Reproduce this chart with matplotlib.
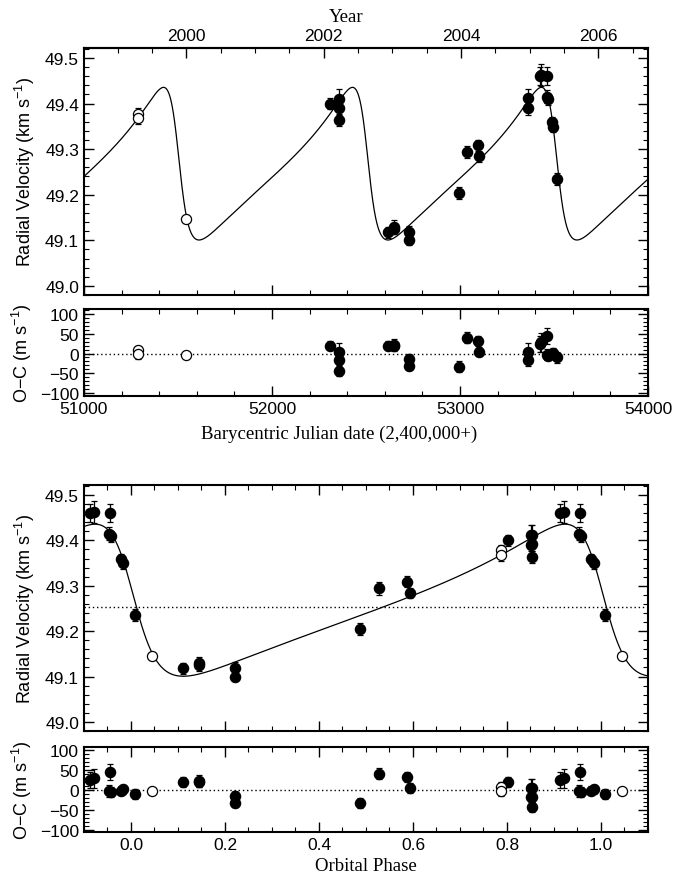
import numpy as np
import matplotlib
matplotlib.use("Agg")
import matplotlib.pyplot as plt
from matplotlib.ticker import MultipleLocator, NullFormatter, FixedLocator, FuncFormatter

# ---------------- data ----------------
bjd = [51287, 51287, 51544, 52306, 52357, 52357, 52357, 52616, 52651, 52651,
       52728, 52728, 52994, 53035, 53096, 53102, 53360, 53360, 53423, 53430,
       53465, 53463, 53467, 53488, 53494, 53518]
rv = [49.378, 49.368, 49.146, 49.400, 49.411, 49.391, 49.363, 49.118, 49.130, 49.125,
      49.118, 49.100, 49.204, 49.294, 49.309, 49.284, 49.412, 49.390, 49.461, 49.463,
      49.460, 49.415, 49.409, 49.359, 49.349, 49.235]
rv_err = [0.012, 0.013, 0.004, 0.012, 0.022, 0.014, 0.013, 0.012, 0.014, 0.012,
          0.013, 0.010, 0.013, 0.014, 0.012, 0.012, 0.021, 0.014, 0.020, 0.024,
          0.020, 0.014, 0.012, 0.012, 0.012, 0.013]
o_minus_c = [8, -2, -4, 20, 5, -17, -43, 20, 22, 18,
             -15, -32, -33, 40, 31, 5, 5, -17, 25, 28,
             44, -3, -5, -2, 1, -10]
is_open = [True, True, True] + [False] * 23
year_ticks = [2000, 2002, 2004, 2006]

# orbital elements of the fitted curve
period = 1005.0
t_peri = 53510.0
ecc = 0.52
omega_deg = 80.0
k_amp = 0.1675
gamma = 49.253

bjd = np.array(bjd, float)
rv = np.array(rv)
rv_err = np.array(rv_err)
o_minus_c = np.array(o_minus_c, float)
is_open = np.array(is_open)


def kepler_rv(t):
    M = 2 * np.pi * np.mod((np.asarray(t) - t_peri) / period, 1.0)
    E = M.copy()
    for _ in range(60):
        E = E - (E - ecc * np.sin(E) - M) / (1 - ecc * np.cos(E))
    nu = 2 * np.arctan2(np.sqrt(1 + ecc) * np.sin(E / 2), np.sqrt(1 - ecc) * np.cos(E / 2))
    w = np.radians(omega_deg)
    return gamma + k_amp * (np.cos(nu + w) + ecc * np.cos(w))


phase = np.mod((bjd - t_peri) / period, 1.0)

# ---------------- style ----------------
SANS = ["Liberation Sans", "DejaVu Sans"]
SERIF = ["Liberation Serif", "DejaVu Serif"]
plt.rcParams["font.family"] = SANS
plt.rcParams["font.size"] = 12.5
plt.rcParams["axes.linewidth"] = 1.5
plt.rcParams["mathtext.default"] = "regular"

fig = plt.figure(figsize=(6.75, 8.78), dpi=100)
L, W = 0.1244, 0.8356
ax1 = fig.add_axes([L, 0.6629, W, 0.2813])
ax2 = fig.add_axes([L, 0.5478, W, 0.0991])
ax3 = fig.add_axes([L, 0.1663, W, 0.2802])
ax4 = fig.add_axes([L, 0.0513, W, 0.0971])


def style(ax, xmaj, xmin, ymaj, ymin, top=True):
    ax.xaxis.set_major_locator(MultipleLocator(xmaj))
    ax.xaxis.set_minor_locator(MultipleLocator(xmin))
    ax.yaxis.set_major_locator(MultipleLocator(ymaj))
    ax.yaxis.set_minor_locator(MultipleLocator(ymin))
    ax.tick_params(which="both", direction="in", left=True, right=True,
                   bottom=True, top=top, labelsize=12.5)
    ax.tick_params(which="major", length=7, width=1.0)
    ax.tick_params(which="minor", length=3.5, width=0.8)


def points(ax, x, y, err, open_mask):
    ax.errorbar(x, y, yerr=err, fmt="none", ecolor="black", elinewidth=0.9,
                capsize=2.5, capthick=0.9, zorder=3)
    ax.plot(x[~open_mask], y[~open_mask], "o", ms=7.3, mfc="black", mec="black", zorder=4)
    ax.plot(x[open_mask], y[open_mask], "o", ms=7.3, mfc="white", mec="black",
            mew=0.9, zorder=4)


rv_fmt = FuncFormatter(lambda v, pos: "%.1f" % v)
oc_fmt = FuncFormatter(lambda v, pos: ("%d" % round(v)).replace("-", "\u2212"))

# ---- panel 1: RV vs BJD ----
tgrid = np.linspace(51000, 54000, 3000)
ax1.plot(tgrid, kepler_rv(tgrid), color="black", lw=0.9, zorder=2)
points(ax1, bjd, rv, rv_err, is_open)
ax1.set_xlim(51000, 54000)
ax1.set_ylim(48.98, 49.522)
style(ax1, 1000, 200, 0.1, 0.02, top=False)
ax1.xaxis.set_major_formatter(NullFormatter())
ax1.yaxis.set_major_formatter(rv_fmt)
ax1.set_ylabel("Radial Velocity (km s$^{-1}$)", fontsize=13, labelpad=6)


def jd2yr(x):
    return 2000.0 + (np.asarray(x) - 51544.5) / 365.25


def yr2jd(y):
    return 51544.5 + (np.asarray(y) - 2000.0) * 365.25


sec = ax1.secondary_xaxis("top", functions=(jd2yr, yr2jd))
sec.xaxis.set_major_locator(FixedLocator(year_ticks))
sec.xaxis.set_minor_locator(MultipleLocator(0.5))
sec.tick_params(which="both", direction="in", labelsize=12.5)
sec.tick_params(which="major", length=7, width=1.0)
sec.tick_params(which="minor", length=3.5, width=0.8)
sec.set_xlabel("Year", family=SERIF, fontsize=13.5, labelpad=5)
sec.xaxis.label.set_x(0.465)

# ---- panel 2: O-C vs BJD ----
ax2.axhline(0, color="black", lw=1.0, ls=(0, (1, 2)), zorder=1)
points(ax2, bjd, o_minus_c, rv_err * 1000, is_open)
ax2.set_xlim(51000, 54000)
ax2.set_ylim(-107, 112)
style(ax2, 1000, 200, 50, 10)
ax2.yaxis.set_major_formatter(oc_fmt)
ax2.set_ylabel("O$-$C (m s$^{-1}$)", fontsize=13, labelpad=4)
ax2.set_xlabel("Barycentric Julian date (2,400,000+)", family=SERIF, fontsize=13.5, labelpad=6)
ax2.xaxis.label.set_x(0.452)

# ---- panel 3: RV vs phase ----
pgrid = np.linspace(-0.1, 1.1, 2000)
ax3.plot(pgrid, kepler_rv(t_peri + pgrid * period), color="black", lw=0.9, zorder=2)
ax3.axhline(gamma, color="black", lw=1.0, ls=(0, (1, 2)), zorder=1)
xs, ys, es, os_, ocs = [], [], [], [], []
for shift in (-1, 0, 1):
    p = phase + shift
    m = (p > -0.1) & (p < 1.1)
    xs.append(p[m]); ys.append(rv[m]); es.append(rv_err[m]); os_.append(is_open[m]); ocs.append(o_minus_c[m])
px = np.concatenate(xs); py = np.concatenate(ys); pe = np.concatenate(es)
po = np.concatenate(os_); poc = np.concatenate(ocs)
points(ax3, px, py, pe, po)
ax3.set_xlim(-0.1, 1.1)
ax3.set_ylim(48.98, 49.522)
style(ax3, 0.2, 0.05, 0.1, 0.02)
ax3.xaxis.set_major_formatter(NullFormatter())
ax3.yaxis.set_major_formatter(rv_fmt)
ax3.set_ylabel("Radial Velocity (km s$^{-1}$)", fontsize=13, labelpad=6)

# ---- panel 4: O-C vs phase ----
ax4.axhline(0, color="black", lw=1.0, ls=(0, (1, 2)), zorder=1)
points(ax4, px, poc, pe * 1000, po)
ax4.set_xlim(-0.1, 1.1)
ax4.set_ylim(-105, 107)
style(ax4, 0.2, 0.05, 50, 10)
ax4.xaxis.set_major_formatter(FuncFormatter(lambda v, pos: "%.1f" % v))
ax4.yaxis.set_major_formatter(oc_fmt)
ax4.set_ylabel("O$-$C (m s$^{-1}$)", fontsize=13, labelpad=4)
ax4.set_xlabel("Orbital Phase", family=SERIF, fontsize=13.5, labelpad=4)

fig.savefig("out.png", dpi=100)
